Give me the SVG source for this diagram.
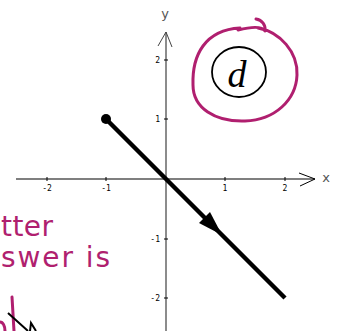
<svg xmlns="http://www.w3.org/2000/svg" width="338" height="331" viewBox="0 0 338 331">
<style>
.tick{font-family:"DejaVu Sans Mono",monospace;font-size:8px;fill:#000}
.axl{font-family:"DejaVu Sans",sans-serif;font-size:13px;fill:#555}
.hand{font-family:"DejaVu Sans",sans-serif;font-size:28px;fill:#b01f6f}
.mag{fill:none;stroke:#b01f6f;stroke-width:3;stroke-linecap:round;stroke-linejoin:round}
</style>
<rect width="338" height="331" fill="#fff"/>
<g id="axes">
<line x1="16" y1="179" x2="315" y2="179" stroke="#000" stroke-width="1.2"/>
<polyline points="299,173 315,179 300,186" fill="none" stroke="#000" stroke-width="1"/>
<line x1="166" y1="32" x2="166" y2="331" stroke="#666" stroke-width="1.5"/>
<polyline points="158,46 166,32 172,47" fill="none" stroke="#444" stroke-width="1"/>
<g stroke="#000" stroke-width="1">
<line x1="47" y1="177" x2="47" y2="181"/><line x1="106" y1="177" x2="106" y2="181"/>
<line x1="225" y1="177" x2="225" y2="181"/><line x1="285" y1="177" x2="285" y2="181"/>
<line x1="164" y1="60" x2="168" y2="60"/><line x1="164" y1="119" x2="168" y2="119"/>
<line x1="164" y1="239" x2="168" y2="239"/><line x1="164" y1="298" x2="168" y2="298"/>
</g>
<text class="tick" x="47" y="191" text-anchor="middle">-2</text>
<text class="tick" x="106" y="191" text-anchor="middle">-1</text>
<text class="tick" x="225" y="191" text-anchor="middle">1</text>
<text class="tick" x="285" y="191" text-anchor="middle">2</text>
<text class="tick" x="160" y="63" text-anchor="end">2</text>
<text class="tick" x="160" y="122" text-anchor="end">1</text>
<text class="tick" x="160" y="242" text-anchor="end">-1</text>
<text class="tick" x="160" y="301" text-anchor="end">-2</text>
<text class="axl" x="165" y="18" text-anchor="middle">y</text>
<text class="axl" x="326" y="182" text-anchor="middle">x</text>
</g>
<g id="connectors">
<line x1="106" y1="119" x2="285" y2="298" stroke="#000" stroke-width="4.5"/>
<circle cx="106" cy="119" r="5" fill="#000"/>
<polygon points="222,235 199,223 210,212" fill="#000"/>
</g>
<g id="answer">
<path class="mag" d="M238,30 C250,27 262,26 265,31 C266,25 262,20 256,19 M258,28 C280,32 298,52 297,75 C296,100 275,120 245,121 C215,122 193,108 193,85 C192,55 205,30 240,28"/>
<ellipse cx="239" cy="72" rx="27" ry="25" fill="none" stroke="#000" stroke-width="1.8"/>
<text x="237" y="87" text-anchor="middle" font-family="Liberation Serif,serif" font-style="italic" font-size="38" fill="#000">d</text>
</g>
<g id="note">
<text class="hand" x="1" y="236" textLength="52" lengthAdjust="spacing">tter</text>
<text class="hand" x="1" y="267" textLength="109" lengthAdjust="spacing">swer is</text>
<path class="mag" d="M12,297 L14,331 M0,322 C3,322 5,326 5,331"/>
<path d="M8,313 L28,331 M30,331 L31,323 L36,331" fill="none" stroke="#000" stroke-width="2"/>
</g>
</svg>
